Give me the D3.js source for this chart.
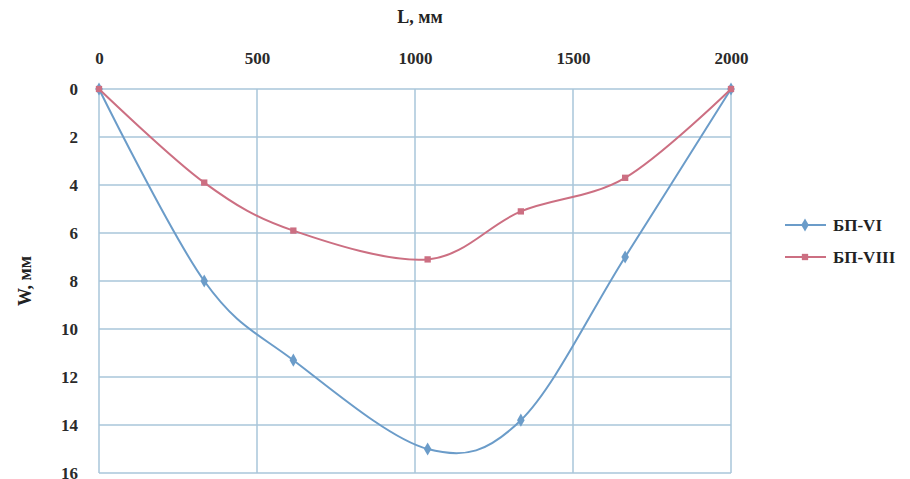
<!DOCTYPE html>
<html><head><meta charset="utf-8">
<script src="https://cdn.jsdelivr.net/npm/d3@7"></script>
<style>body{margin:0;background:#fff;overflow:hidden}svg{display:block}</style>
</head><body><svg id="c" width="910" height="479"></svg>
<script>
const xValues = [0, 333, 615, 1040, 1335, 1665, 2000];
const seriesNames = ["БП-VI", "БП-VIII"];
const bp6 = [0, 8.0, 11.3, 15.0, 13.8, 7.0, 0];
const bp8 = [0, 3.9, 5.9, 7.1, 5.1, 3.7, 0];
const xTicks = [0, 500, 1000, 1500, 2000];
const yTicks = [0, 2, 4, 6, 8, 10, 12, 14, 16];
const colors = ["#6b9cc9", "#cc6f82"];

const svg = d3.select("#c");
const font = "'Liberation Serif','Times New Roman',serif";
const x = d3.scaleLinear().domain([0, 2000]).range([99, 731]);
const y = d3.scaleLinear().domain([0, 16]).range([89, 473]);

// grid
svg.append("g").selectAll("line").data(yTicks).join("line")
  .attr("x1", x(0)).attr("x2", x(2000)).attr("y1", d => y(d)).attr("y2", d => y(d))
  .attr("stroke", "#a9c6da").attr("stroke-width", 1.5);
svg.append("g").selectAll("line").data(xTicks).join("line")
  .attr("x1", d => x(d)).attr("x2", d => x(d)).attr("y1", y(0)).attr("y2", y(16))
  .attr("stroke", "#a9c6da").attr("stroke-width", 1.5);

// axes (labels only)
const xAxis = d3.axisTop(x).tickValues(xTicks).tickFormat(d3.format("d")).tickSize(0).tickPadding(25);
const gx = svg.append("g").attr("transform", `translate(0,${y(0)})`).call(xAxis);
const yAxis = d3.axisLeft(y).tickValues(yTicks).tickFormat(d3.format("d")).tickSize(0).tickPadding(21);
const gy = svg.append("g").attr("transform", `translate(${x(0)},0)`).call(yAxis);
[gx, gy].forEach(g => {
  g.select(".domain").remove();
  g.selectAll("text").attr("font-family", font).attr("font-weight", "bold")
    .attr("font-size", 17).attr("fill", "#2a2a2a");
});

svg.append("text").attr("x", 420).attr("y", 23).attr("text-anchor", "middle")
  .attr("font-family", font).attr("font-weight", "bold").attr("font-size", 18)
  .attr("fill", "#222").text("L, мм");
svg.append("text").attr("transform", "translate(31,281) rotate(-90)").attr("text-anchor", "middle")
  .attr("font-family", font).attr("font-weight", "bold").attr("font-size", 18)
  .attr("fill", "#222").text("W, мм");

const seriesData = [bp6, bp8];
const line = d3.line().x(d => x(d[0])).y(d => y(d[1])).curve(d3.curveCatmullRom.alpha(0));
const symbols = [d3.symbol().type(d3.symbolDiamond).size(50), d3.symbol().type(d3.symbolSquare).size(40)];

seriesData.forEach((vals, i) => {
  const pts = xValues.map((xv, j) => [xv, vals[j]]);
  svg.append("path").datum(pts).attr("d", line).attr("fill", "none")
    .attr("stroke", colors[i]).attr("stroke-width", 2);
});
seriesData.forEach((vals, i) => {
  const pts = xValues.map((xv, j) => [xv, vals[j]]);
  svg.append("g").selectAll("path").data(pts).join("path")
    .attr("d", symbols[i]).attr("transform", d => `translate(${x(d[0])},${y(d[1])})`)
    .attr("fill", colors[i]);
});

// legend
const lg = svg.append("g");
seriesNames.forEach((name, i) => {
  const ly = 225 + i * 32;
  lg.append("line").attr("x1", 785).attr("x2", 826).attr("y1", ly).attr("y2", ly)
    .attr("stroke", colors[i]).attr("stroke-width", 2);
  lg.append("path").attr("d", symbols[i]).attr("transform", `translate(805,${ly})`).attr("fill", colors[i]);
  lg.append("text").attr("x", 833).attr("y", ly + 6).attr("font-family", font)
    .attr("font-weight", "bold").attr("font-size", 17).attr("fill", "#222").text(name);
});
</script></body></html>
